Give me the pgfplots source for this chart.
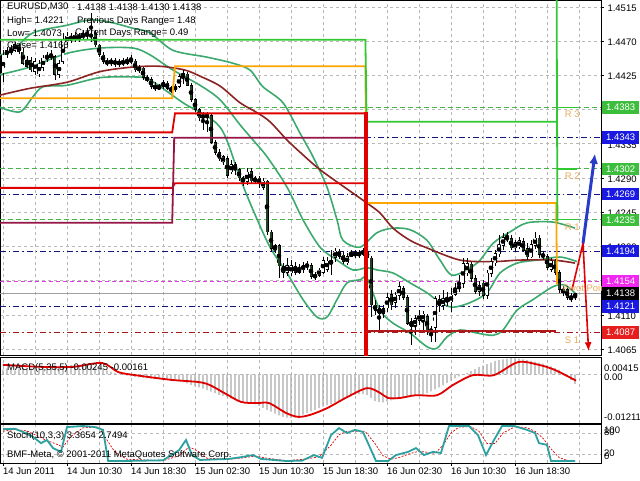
\documentclass[border=0pt]{standalone}
\usepackage{pgfplots}
\pgfplotsset{compat=1.18}
\usepackage{pgfplotstable}
\usepackage{fontspec}
\setmainfont{Liberation Sans}
\usetikzlibrary{arrows.meta}
\definecolor{gridc}{RGB}{185,185,185}
\definecolor{bbg}{RGB}{60,170,110}
\definecolor{mared}{RGB}{140,35,35}
\definecolor{stepg}{RGB}{50,200,50}
\definecolor{stepo}{RGB}{255,165,0}
\definecolor{stepr}{RGB}{225,0,0}
\definecolor{stepm}{RGB}{150,20,70}
\definecolor{stepdr}{RGB}{175,25,25}
\definecolor{pivg}{RGB}{70,180,70}
\definecolor{pivb}{RGB}{20,20,130}
\definecolor{pivm}{RGB}{225,60,225}
\definecolor{pivr}{RGB}{170,25,25}
\definecolor{boxg}{RGB}{60,190,60}
\definecolor{boxb}{RGB}{25,25,225}
\definecolor{boxm}{RGB}{240,40,240}
\definecolor{boxr}{RGB}{230,30,30}
\definecolor{labt}{RGB}{232,172,95}
\definecolor{bear}{RGB}{35,65,35}
\definecolor{macdg}{RGB}{170,170,170}
\definecolor{stocht}{RGB}{45,160,160}
\definecolor{curp}{RGB}{160,160,160}
\definecolor{arrb}{RGB}{40,60,200}
\newcommand{\lf}{\fontsize{9.5}{11}\selectfont}

\pgfplotstableread{
i o h l c
0 1.4428 1.4458 1.4416 1.4452
1 1.4452 1.4462 1.4448 1.4458
2 1.4458 1.4465 1.4452 1.4456
3 1.4458 1.4469 1.4456 1.4466
4 1.4464 1.4466 1.4453 1.4456
5 1.4456 1.4461 1.4439 1.4441
6 1.4445 1.4451 1.4435 1.4437
7 1.4445 1.4449 1.4430 1.4432
8 1.4430 1.4448 1.4426 1.4443
9 1.4427 1.4445 1.4423 1.4440
10 1.4435 1.4452 1.4431 1.4448
11 1.4448 1.4456 1.4443 1.4449
12 1.4449 1.4458 1.4445 1.4452
13 1.4450 1.4452 1.4419 1.4426
14 1.4426 1.4445 1.4422 1.4441
15 1.4443 1.4481 1.4440 1.4472
16 1.4469 1.4482 1.4465 1.4477
17 1.4475 1.4481 1.4468 1.4472
18 1.4472 1.4482 1.4469 1.4478
19 1.4477 1.4481 1.4469 1.4474
20 1.4474 1.4485 1.4472 1.4480
21 1.4480 1.4487 1.4472 1.4477
22 1.4477 1.4507 1.4469 1.4478
23 1.4480 1.4485 1.4462 1.4465
24 1.4465 1.4466 1.4449 1.4452
25 1.4452 1.4456 1.4440 1.4443
26 1.4443 1.4448 1.4437 1.4441
27 1.4441 1.4448 1.4437 1.4445
28 1.4444 1.4448 1.4436 1.4440
29 1.4440 1.4447 1.4436 1.4443
30 1.4443 1.4448 1.4437 1.4441
31 1.4441 1.4449 1.4439 1.4445
32 1.4445 1.4452 1.4440 1.4444
33 1.4444 1.4447 1.4430 1.4432
34 1.4432 1.4439 1.4428 1.4435
35 1.4435 1.4436 1.4419 1.4422
36 1.4422 1.4425 1.4416 1.4419
37 1.4420 1.4423 1.4407 1.4410
38 1.4411 1.4416 1.4404 1.4408
39 1.4408 1.4414 1.4406 1.4410
40 1.4410 1.4419 1.4407 1.4416
41 1.4415 1.4418 1.4406 1.4408
42 1.4408 1.4411 1.4402 1.4405
43 1.4406 1.4414 1.4403 1.4411
44 1.4410 1.4427 1.4408 1.4424
45 1.4423 1.4432 1.4414 1.4428
46 1.4427 1.4429 1.4411 1.4412
47 1.4412 1.4415 1.4390 1.4393
48 1.4393 1.4395 1.4377 1.4380
49 1.4380 1.4382 1.4365 1.4369
50 1.4369 1.4377 1.4353 1.4373
51 1.4373 1.4377 1.4350 1.4370
52 1.4372 1.4374 1.4335 1.4337
53 1.4337 1.4340 1.4320 1.4324
54 1.4324 1.4328 1.4312 1.4315
55 1.4311 1.4320 1.4307 1.4318
56 1.4316 1.4319 1.4290 1.4293
57 1.4298 1.4314 1.4295 1.4308
58 1.4308 1.4311 1.4294 1.4301
59 1.4301 1.4303 1.4286 1.4290
60 1.4290 1.4293 1.4280 1.4286
61 1.4285 1.4303 1.4281 1.4298
62 1.4299 1.4303 1.4283 1.4286
63 1.4286 1.4293 1.4282 1.4290
64 1.4290 1.4293 1.4277 1.4282
65 1.4277 1.4290 1.4274 1.4286
66 1.4286 1.4287 1.4215 1.4219
67 1.4219 1.4222 1.4193 1.4197
68 1.4197 1.4203 1.4191 1.4201
69 1.4201 1.4203 1.4158 1.4174
70 1.4174 1.4178 1.4158 1.4166
71 1.4166 1.4185 1.4161 1.4175
72 1.4165 1.4182 1.4161 1.4175
73 1.4174 1.4180 1.4162 1.4166
74 1.4166 1.4177 1.4164 1.4170
75 1.4169 1.4180 1.4165 1.4175
76 1.4175 1.4181 1.4169 1.4174
77 1.4175 1.4178 1.4157 1.4160
78 1.4160 1.4166 1.4156 1.4162
79 1.4162 1.4172 1.4160 1.4169
80 1.4166 1.4186 1.4164 1.4182
81 1.4170 1.4186 1.4166 1.4181
82 1.4182 1.4195 1.4162 1.4177
83 1.4185 1.4198 1.4180 1.4194
84 1.4194 1.4197 1.4183 1.4187
85 1.4189 1.4193 1.4177 1.4180
86 1.4178 1.4191 1.4175 1.4187
87 1.4187 1.4195 1.4186 1.4191
88 1.4191 1.4195 1.4185 1.4189
89 1.4189 1.4195 1.4185 1.4191
90 1.4190 1.4198 1.4187 1.4194
91 1.4194 1.4198 1.4180 1.4185
92 1.4185 1.4187 1.4107 1.4123
93 1.4123 1.4130 1.4110 1.4116
94 1.4118 1.4123 1.4090 1.4112
95 1.4112 1.4123 1.4106 1.4118
96 1.4119 1.4139 1.4114 1.4133
97 1.4137 1.4143 1.4116 1.4123
98 1.4126 1.4140 1.4119 1.4136
99 1.4135 1.4153 1.4130 1.4147
100 1.4145 1.4148 1.4130 1.4133
101 1.4133 1.4136 1.4097 1.4099
102 1.4101 1.4106 1.4070 1.4095
103 1.4096 1.4110 1.4083 1.4105
104 1.4103 1.4116 1.4097 1.4110
105 1.4103 1.4115 1.4090 1.4111
106 1.4108 1.4111 1.4083 1.4090
107 1.4090 1.4095 1.4074 1.4089
108 1.4093 1.4135 1.4074 1.4132
109 1.4130 1.4136 1.4114 1.4122
110 1.4122 1.4143 1.4116 1.4132
111 1.4131 1.4140 1.4122 1.4127
112 1.4127 1.4145 1.4114 1.4136
113 1.4137 1.4152 1.4135 1.4145
114 1.4145 1.4162 1.4140 1.4148
115 1.4151 1.4185 1.4145 1.4178
116 1.4165 1.4185 1.4161 1.4178
117 1.4177 1.4180 1.4153 1.4158
118 1.4158 1.4162 1.4137 1.4141
119 1.4141 1.4154 1.4135 1.4149
120 1.4152 1.4156 1.4131 1.4135
121 1.4135 1.4169 1.4131 1.4165
122 1.4164 1.4185 1.4160 1.4180
123 1.4178 1.4195 1.4174 1.4191
124 1.4190 1.4215 1.4186 1.4202
125 1.4201 1.4218 1.4195 1.4212
126 1.4211 1.4219 1.4206 1.4210
127 1.4210 1.4215 1.4195 1.4198
128 1.4198 1.4208 1.4193 1.4205
129 1.4199 1.4212 1.4197 1.4208
130 1.4207 1.4211 1.4193 1.4195
131 1.4197 1.4205 1.4182 1.4186
132 1.4186 1.4208 1.4185 1.4203
133 1.4201 1.4219 1.4197 1.4211
134 1.4211 1.4215 1.4185 1.4189
135 1.4189 1.4194 1.4182 1.4187
136 1.4187 1.4190 1.4169 1.4172
137 1.4170 1.4185 1.4166 1.4181
138 1.4181 1.4183 1.4162 1.4166
139 1.4166 1.4169 1.4139 1.4143
140 1.4143 1.4148 1.4135 1.4140
141 1.4143 1.4148 1.4130 1.4133
142 1.4133 1.4139 1.4127 1.4131
143 1.4133 1.4139 1.4130 1.4138
}\candles

\pgfplotstableread{
i v
0 0.0012
1 0.0015
2 0.0012
3 0.0010
4 0.0014
5 0.0016
6 0.0013
7 0.0015
8 0.0017
9 0.0018
10 0.0020
11 0.0019
12 0.0021
13 0.0022
14 0.0020
15 0.0021
16 0.0023
17 0.0024
18 0.0025
19 0.0024
20 0.0022
21 0.0021
22 0.0020
23 0.0019
24 0.0017
25 0.0014
26 0.0010
27 0.0007
28 0.0004
29 0.0002
30 0.0000
31 -0.0003
32 -0.0005
33 -0.0007
34 -0.0008
35 -0.0009
36 -0.0010
37 -0.0011
38 -0.0012
39 -0.0012
40 -0.0013
41 -0.0014
42 -0.0015
43 -0.0016
44 -0.0018
45 -0.0020
46 -0.0023
47 -0.0027
48 -0.0030
49 -0.0033
50 -0.0036
51 -0.0040
52 -0.0044
53 -0.0048
54 -0.0052
55 -0.0055
56 -0.0058
57 -0.0062
58 -0.0065
59 -0.0068
60 -0.0070
61 -0.0072
62 -0.0074
63 -0.0076
64 -0.0080
65 -0.0085
66 -0.0090
67 -0.0095
68 -0.0100
69 -0.0104
70 -0.0108
71 -0.0110
72 -0.0111
73 -0.0110
74 -0.0106
75 -0.0102
76 -0.0098
77 -0.0094
78 -0.0090
79 -0.0086
80 -0.0082
81 -0.0079
82 -0.0076
83 -0.0072
84 -0.0068
85 -0.0064
86 -0.0060
87 -0.0056
88 -0.0052
89 -0.0050
90 -0.0050
91 -0.0053
92 -0.0060
93 -0.0068
94 -0.0070
95 -0.0071
96 -0.0069
97 -0.0066
98 -0.0063
99 -0.0060
100 -0.0058
101 -0.0056
102 -0.0055
103 -0.0054
104 -0.0052
105 -0.0050
106 -0.0047
107 -0.0043
108 -0.0038
109 -0.0033
110 -0.0028
111 -0.0022
112 -0.0016
113 -0.0010
114 -0.0005
115 -0.0001
116 0.0003
117 0.0008
118 0.0013
119 0.0018
120 0.0022
121 0.0026
122 0.0030
123 0.0034
124 0.0036
125 0.0038
126 0.0040
127 0.0041
128 0.0041
129 0.0040
130 0.0038
131 0.0036
132 0.0034
133 0.0032
134 0.0030
135 0.0027
136 0.0024
137 0.0020
138 0.0016
139 0.0012
140 0.0004
141 -0.0006
142 -0.0015
143 -0.0024
}\macd

\pgfplotsset{
  mtpanel/.style={scale only axis, width=601pt, xmin=-0.75, xmax=149.5, anchor=north west,
    axis line style={black, line width=0.8pt}, clip mode=individual,
    major grid style={gridc, dash pattern=on 3pt off 3pt, line width=0.6pt},
    minor grid style={gridc, dash pattern=on 3pt off 3pt, line width=0.6pt},
    tick align=outside, major tick length=3pt, minor tick length=0pt,
    tick style={black, line width=0.6pt},
    tick label style={font=\lf},
  },
  cbar/.style={only marks, mark=none, forget plot,
    error bars/y dir=both, error bars/y explicit, error bars/error mark=none},
}

\begin{document}
\begin{tikzpicture}[font=\lf]
\useasboundingbox (0,0) rectangle (640pt,-480pt);
\fill[white] (0,0) rectangle (640pt,-480pt);

% ================= MAIN PRICE PANEL =================
\begin{axis}[mtpanel, at={(0pt,0pt)}, height=355pt, ymin=1.40571, ymax=1.45242,
  xtick={0,16,...,144}, minor xtick={8,24,40,56,72,88,104,120,136},
  xmajorgrids, xminorgrids, xmajorticks=false, xticklabels={},
  ytick={1.4065,1.411,1.4155,1.42,1.4245,1.429,1.4335,1.438,1.4425,1.447,1.4515},
  ymajorgrids, ytick pos=right, yticklabel pos=right, scaled y ticks=false,
  yticklabel style={anchor=west, yshift=-1pt,
    /pgf/number format/fixed, /pgf/number format/fixed zerofill,
    /pgf/number format/precision=4, /pgf/number format/assume math mode=true},
]
% pivot levels
\addplot[pivg, line width=0.8pt, dash pattern=on 5pt off 3pt] coordinates {(-0.75,1.4383)(149.5,1.4383)};
\addplot[pivb, line width=0.8pt, dash pattern=on 6pt off 3pt on 1.5pt off 3pt] coordinates {(-0.75,1.4343)(149.5,1.4343)};
\addplot[pivg, line width=0.8pt, dash pattern=on 5pt off 3pt] coordinates {(-0.75,1.4302)(149.5,1.4302)};
\addplot[pivb, line width=0.8pt, dash pattern=on 6pt off 3pt on 1.5pt off 3pt] coordinates {(-0.75,1.4269)(149.5,1.4269)};
\addplot[pivg, line width=0.8pt, dash pattern=on 5pt off 3pt] coordinates {(-0.75,1.4235)(149.5,1.4235)};
\addplot[pivb, line width=0.8pt, dash pattern=on 6pt off 3pt on 1.5pt off 3pt] coordinates {(-0.75,1.4194)(149.5,1.4194)};
\addplot[pivm, line width=0.8pt, dash pattern=on 4pt off 3pt] coordinates {(-0.75,1.4154)(149.5,1.4154)};
\addplot[pivb, line width=0.8pt, dash pattern=on 6pt off 3pt on 1.5pt off 3pt] coordinates {(-0.75,1.4121)(149.5,1.4121)};
\addplot[pivr, line width=0.8pt, dash pattern=on 6pt off 3pt on 1.5pt off 3pt] coordinates {(-0.75,1.4087)(149.5,1.4087)};
\addplot[curp, line width=0.7pt] coordinates {(-0.75,1.4138)(149.5,1.4138)};

% Bollinger bands
\addplot[bbg, line width=1.6pt, smooth] coordinates {(-0.75,1.4452)(2.5,1.4458)(7.5,1.4481)(16,1.4491)(21.75,1.4498)(26.75,1.4495)(32.5,1.4487)(36.75,1.4481)(42.5,1.4458)(51,1.4449)(57.5,1.4441)(61.75,1.4432)(65,1.4410)(70,1.4389)(74.25,1.4349)(77.5,1.4318)(81,1.4278)(83.5,1.4235)(85,1.4208)(89.25,1.4199)(93.5,1.4218)(97.5,1.4224)(101.75,1.4222)(106,1.4208)(109.25,1.4182)(112.5,1.4162)(118.5,1.4178)(122.5,1.4204)(126.75,1.4219)(131,1.4231)(137.5,1.4232)(143,1.4224)};
\addplot[bbg, line width=1.6pt, smooth] coordinates {(-0.75,1.4426)(6.75,1.4436)(16,1.4454)(24.25,1.4461)(32.5,1.4461)(36.75,1.4452)(42.5,1.4432)(49.25,1.4412)(54.25,1.4393)(59.25,1.4360)(62.5,1.4340)(66,1.4318)(71,1.4278)(75,1.4235)(79.25,1.4199)(83.5,1.4182)(87.5,1.4169)(91,1.4172)(93.5,1.4169)(97.5,1.4165)(101.75,1.4152)(106,1.4139)(109.25,1.4126)(112.5,1.4120)(116.75,1.4126)(121,1.4139)(124.25,1.4165)(128.5,1.4178)(133.5,1.4182)(139.25,1.4186)(143.5,1.4180)};
\addplot[bbg, line width=1.6pt, smooth] coordinates {(-0.75,1.4383)(4.25,1.4377)(7.5,1.4397)(10,1.4410)(16,1.4412)(24.25,1.4422)(32.5,1.4423)(36.75,1.4419)(45,1.4389)(54.25,1.4357)(59.25,1.4290)(62.5,1.4248)(66.75,1.4199)(71,1.4165)(75,1.4130)(78.5,1.4107)(81,1.4107)(83.5,1.4130)(86,1.4152)(89.25,1.4156)(91,1.4158)(94.25,1.4116)(97.5,1.4099)(101.75,1.4086)(106,1.4068)(108.5,1.4066)(111,1.4081)(114.25,1.4090)(118.5,1.4086)(122.5,1.4083)(125,1.4090)(128.5,1.4116)(132.5,1.4130)(137.5,1.4147)(140.5,1.4149)(143.5,1.4136)};
% long moving average
\addplot[mared, line width=1.6pt, smooth] coordinates {(-0.75,1.4399)(6.75,1.4408)(16,1.4416)(24.25,1.4430)(32.5,1.4436)(39.25,1.4437)(45.5,1.4432)(49.25,1.4424)(54.25,1.4411)(59.25,1.4389)(63.5,1.4376)(66.75,1.4364)(71,1.4340)(74.25,1.4324)(79.25,1.4301)(87.5,1.4270)(91,1.4257)(94.25,1.4244)(97.5,1.4224)(101.75,1.4208)(106,1.4198)(114.25,1.4182)(122.5,1.4180)(129.25,1.4182)(137.5,1.4182)(143,1.4178)};

% candles: wicks, body outlines, bull and bear fills
\addplot[cbar, error bars/error bar style={draw=black, line width=0.7pt, solid}]
  table[x=i, y expr={(\thisrow{h}+\thisrow{l})/2}, y error expr={(\thisrow{h}-\thisrow{l})/2}] {\candles};
\addplot[cbar, error bars/error bar style={draw=black, line width=3pt, solid}]
  table[x=i, y expr={(\thisrow{o}+\thisrow{c})/2}, y error expr={abs(\thisrow{o}-\thisrow{c})/2+0.00004}] {\candles};
\addplot[restrict expr to domain={\thisrow{c}-\thisrow{o}}{0.00012:1}, cbar, error bars/error bar style={draw=white, line width=1.5pt, solid}]
  table[x=i, y expr={(\thisrow{o}+\thisrow{c})/2}, y error expr={(\thisrow{c}-\thisrow{o})/2-0.00005}] {\candles};
\addplot[restrict expr to domain={\thisrow{o}-\thisrow{c}}{0.00012:1}, cbar, error bars/error bar style={draw=bear, line width=1.5pt, solid}]
  table[x=i, y expr={(\thisrow{o}+\thisrow{c})/2}, y error expr={(\thisrow{o}-\thisrow{c})/2-0.00005}] {\candles};

% daily level step lines
\addplot[stepo, line width=1.8pt] coordinates {(-0.75,1.4395)(42.3,1.4395)(43.0,1.4437)(90.6,1.4437)(90.9,1.4257)(138.3,1.4257)(138.5,1.4150)};
\addplot[stepg, line width=1.8pt] coordinates {(-0.75,1.4472)(90.6,1.4472)(90.9,1.4364)(138.3,1.4364)};
\addplot[stepg, line width=1.8pt] coordinates {(138.4,1.4540)(138.6,1.4233)};
\addplot[stepg, line width=1.4pt] coordinates {(138.6,1.4383)(143.5,1.4383)};
\addplot[stepg, line width=1.4pt] coordinates {(138.6,1.4302)(143.5,1.4302)};
\addplot[stepg, line width=1.4pt] coordinates {(138.6,1.4235)(143.5,1.4235)};
\addplot[stepr, line width=1.8pt] coordinates {(-0.75,1.4350)(42.3,1.4350)(43.0,1.4375)(90.75,1.4375)};
\addplot[stepr, line width=1.8pt] coordinates {(-0.75,1.4277)(42.3,1.4277)(43.0,1.4283)(90.75,1.4283)};
\addplot[stepm, line width=1.8pt] coordinates {(-0.75,1.4231)(42.3,1.4231)(42.8,1.4343)(90.75,1.4343)};
\addplot[stepr, line width=3.5pt] coordinates {(90.75,1.4377)(90.75,1.4045)};
\addplot[stepdr, line width=1.8pt] coordinates {(91,1.4089)(138.3,1.4089)};

% arrows
\addplot[stepr, line width=1.6pt, -{Latex[length=9pt,width=7pt]}] coordinates {(142.25,1.4143)(145,1.4204)(146.4,1.4062)};
\addplot[arrb, line width=3pt, -{Latex[length=10pt,width=9pt]}] coordinates {(145,1.4204)(148,1.4322)};

% pivot labels
\node[anchor=west, text=labt, inner sep=0pt] at (axis cs:140.4,1.4374) {R 3};
\node[anchor=west, text=labt, inner sep=0pt] at (axis cs:140.4,1.4292) {R 2};
\node[anchor=west, text=labt, inner sep=0pt] at (axis cs:140.4,1.4225) {R 1};
\node[anchor=west, text=labt, inner sep=0pt] at (axis cs:139.9,1.4145) {Pivot Point};
\node[anchor=west, text=labt, inner sep=0pt] at (axis cs:140.4,1.4077) {S 1};

\coordinate (bR3) at (axis cs:149.5,1.4383);
\coordinate (bB1) at (axis cs:149.5,1.4343);
\coordinate (bR2) at (axis cs:149.5,1.4302);
\coordinate (bB2) at (axis cs:149.5,1.4269);
\coordinate (bR1) at (axis cs:149.5,1.4235);
\coordinate (bB3) at (axis cs:149.5,1.4194);
\coordinate (bPP) at (axis cs:149.5,1.4154);
\coordinate (bCP) at (axis cs:149.5,1.4138);
\coordinate (bB4) at (axis cs:149.5,1.4121);
\coordinate (bS1) at (axis cs:149.5,1.4087);
\end{axis}

% price boxes on right scale
\tikzset{pbox/.style={anchor=west, xshift=1pt, minimum width=37pt, minimum height=12.5pt, inner xsep=1pt, inner ysep=0pt, text=white, font=\lf}}
\node[pbox, fill=boxg] at (bR3) {1.4383};
\node[pbox, fill=boxb] at (bB1) {1.4343};
\node[pbox, fill=boxg] at (bR2) {1.4302};
\node[pbox, fill=boxb] at (bB2) {1.4269};
\node[pbox, fill=boxg] at (bR1) {1.4235};
\node[pbox, fill=boxb] at (bB3) {1.4194};
\node[pbox, fill=boxm] at (bPP) {1.4154};
\node[pbox, fill=black] at (bCP) {1.4138};
\node[pbox, fill=boxb] at (bB4) {1.4121};
\node[pbox, fill=boxr] at (bS1) {1.4087};

% header text
\node[anchor=west, inner sep=0pt] at (7pt,-7pt) {EURUSD,M30};
\node[anchor=west, inner sep=0pt] at (77pt,-7pt) {1.4138 1.4138 1.4130 1.4138};
\node[anchor=west, inner sep=0pt] at (7pt,-21pt) {High= 1.4221};
\node[anchor=west, inner sep=0pt] at (77pt,-21pt) {Previous Days Range= 1.48};
\node[anchor=west, inner sep=0pt] at (7pt,-33pt) {Low= 1.4073};
\node[anchor=west, inner sep=0pt] at (75pt,-33pt) {Current Days Range= 0.49};
\node[anchor=west, inner sep=0pt] at (7pt,-45pt) {Close= 1.4166};

% ================= MACD PANEL =================
\begin{axis}[mtpanel, at={(0pt,-357pt)}, height=66pt, ymin=-0.01236, ymax=0.0044,
  xtick={0,16,...,144}, minor xtick={8,24,40,56,72,88,104,120,136},
  xmajorgrids, xminorgrids, xmajorticks=false, xticklabels={},
  ytick={0}, ymajorgrids, ymajorticks=false, yticklabels={}, scaled y ticks=false]
\addplot[ybar, bar width=1.4pt, fill=macdg, draw=none, forget plot] table[x=i, y=v] {\macd};
\addplot[stepr, line width=1.8pt, smooth] coordinates {(0,0.0024)(9.5,0.0019)(17.5,0.0019)(24.75,0.0029)(28.75,0.0006)(33,-0.0002)(42,-0.0014)(50.25,-0.0022)(55.25,-0.0047)(59.5,-0.0070)(63.5,-0.0073)(66.5,-0.0073)(70.75,-0.0098)(73.75,-0.0108)(76.75,-0.0103)(81,-0.0086)(86,-0.0058)(91,-0.0035)(94.25,-0.0047)(96.25,-0.0060)(99.25,-0.0060)(103.25,-0.0053)(108.5,-0.0053)(112.5,-0.0027)(117.5,-0.0002)(122.75,-0.0002)(128.75,0.0031)(134,0.0024)(138,0.0011)(143.25,-0.0016)};
\end{axis}
\node[anchor=west, inner sep=0pt] at (7pt,-368pt) {MACD(5,35,5) -0.00245 -0.00161};
\node[anchor=west, inner sep=0pt] at (604pt,-368pt) {0.00415};
\node[anchor=west, inner sep=0pt] at (604pt,-377pt) {0.00};
\node[anchor=west, inner sep=0pt] at (604pt,-417pt) {-0.01211};

% ================= STOCHASTIC PANEL =================
\begin{axis}[mtpanel, at={(0pt,-424pt)}, height=39pt, ymin=-5.7, ymax=105.7,
  xtick={0,16,...,128}, minor xtick={8,24,40,56,72,88,104,120,136,144},
  xmajorgrids, xminorgrids, xtick pos=left, xticklabels={},
  ytick={20,80}, ymajorgrids, ymajorticks=false, yticklabels={}]
\addplot[stepr, line width=0.7pt, dash pattern=on 2pt off 1.5pt] coordinates {(0,85)(3,90)(6,86)(9,70)(11,58)(13,50)(15,40)(17,70)(20,95)(24,97)(26,60)(28,25)(31,5)(40,1)(44,15)(46.5,40)(48.5,30)(51,8)(56.5,5)(60,9)(63,14)(66,8)(71,1)(76,6)(79,12)(82,45)(84,75)(86,85)(88.5,85)(90.5,85)(93,50)(95,15)(97,5)(99,10)(102,22)(104,28)(106,25)(108,22)(110,45)(112,80)(114,97)(117,98)(119,85)(121,50)(123,50)(125,80)(128,98)(131,95)(133,85)(135,65)(137,35)(139,10)(141,2)(143,1)};
\addplot[stocht, line width=1.8pt] coordinates {(0,91)(3,92)(5,83)(7.5,69)(9.5,51)(11,60)(12.5,37)(14.5,26)(16,97)(20,100)(23,97)(25,89)(26.3,0)(30,0)(40,2)(44,31)(45.75,60)(47.25,17)(49.25,3)(56.5,6)(59.5,11)(62.5,17)(64.5,6)(70.75,0)(74.75,1)(77.75,17)(79.75,9)(82,74)(84,94)(86,80)(88,89)(90,83)(93.25,0)(96.25,0)(98.25,17)(101.25,26)(103.25,37)(105.25,17)(107.5,26)(109.5,23)(111.5,100)(116.5,100)(118.75,74)(120.75,17)(122.75,60)(124.75,100)(127.75,100)(131,89)(133,80)(134,51)(136,46)(137,0)(143,0)};
\end{axis}
\node[anchor=west, inner sep=0pt] at (7pt,-436pt) {Stoch(10,3,3) 3.3654 2.7494};
\node[anchor=west, inner sep=0pt] at (7pt,-455pt) {BMF-Meta, © 2001-2011 MetaQuotes Software Corp.};
\node[anchor=west, inner sep=0pt] at (604pt,-430pt) {100};
\node[anchor=west, inner sep=0pt] at (604pt,-432pt) {80};
\node[anchor=west, inner sep=0pt] at (604pt,-453pt) {20};
\node[anchor=west, inner sep=0pt] at (604pt,-456pt) {0};

% date labels
\node[anchor=west, inner sep=0pt] at (3pt,-471pt) {14 Jun 2011};
\node[anchor=west, inner sep=0pt] at (67pt,-471pt) {14 Jun 10:30};
\node[anchor=west, inner sep=0pt] at (131pt,-471pt) {14 Jun 18:30};
\node[anchor=west, inner sep=0pt] at (195pt,-471pt) {15 Jun 02:30};
\node[anchor=west, inner sep=0pt] at (259pt,-471pt) {15 Jun 10:30};
\node[anchor=west, inner sep=0pt] at (323pt,-471pt) {15 Jun 18:30};
\node[anchor=west, inner sep=0pt] at (387pt,-471pt) {16 Jun 02:30};
\node[anchor=west, inner sep=0pt] at (451pt,-471pt) {16 Jun 10:30};
\node[anchor=west, inner sep=0pt] at (515pt,-471pt) {16 Jun 18:30};
\end{tikzpicture}
\end{document}
